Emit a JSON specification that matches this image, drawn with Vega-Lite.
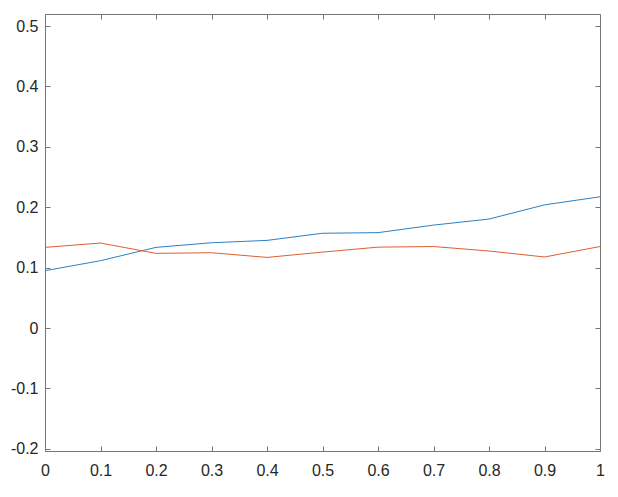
{
  "$schema": "https://vega.github.io/schema/vega-lite/v6.json",
  "autosize": {"type": "none"},
  "padding": {"left": 45, "top": 14, "right": 18, "bottom": 46},
  "width": 555,
  "height": 437,
  "background": "white",
  "config": {
    "view": {"stroke": null},
    "axis": {
      "grid": false,
      "domainColor": "#767676",
      "domainWidth": 1,
      "tickColor": "#767676",
      "tickWidth": 1,
      "tickSize": -5,
      "labelFont": "Liberation Sans",
      "labelFontSize": 16,
      "labelColor": "#262626",
      "title": null
    }
  },
  "data": {
    "values": [
      {"x": 0.0, "y": 0.095, "s": "A"},
      {"x": 0.1, "y": 0.1116, "s": "A"},
      {"x": 0.2, "y": 0.1336, "s": "A"},
      {"x": 0.3, "y": 0.1413, "s": "A"},
      {"x": 0.4, "y": 0.1452, "s": "A"},
      {"x": 0.5, "y": 0.157, "s": "A"},
      {"x": 0.6, "y": 0.158, "s": "A"},
      {"x": 0.7, "y": 0.1705, "s": "A"},
      {"x": 0.8, "y": 0.1805, "s": "A"},
      {"x": 0.9, "y": 0.204, "s": "A"},
      {"x": 1.0, "y": 0.2174, "s": "A"},
      {"x": 0.0, "y": 0.1336, "s": "B"},
      {"x": 0.1, "y": 0.1408, "s": "B"},
      {"x": 0.2, "y": 0.1237, "s": "B"},
      {"x": 0.3, "y": 0.1248, "s": "B"},
      {"x": 0.4, "y": 0.117, "s": "B"},
      {"x": 0.5, "y": 0.1258, "s": "B"},
      {"x": 0.6, "y": 0.134, "s": "B"},
      {"x": 0.7, "y": 0.135, "s": "B"},
      {"x": 0.8, "y": 0.1276, "s": "B"},
      {"x": 0.9, "y": 0.1177, "s": "B"},
      {"x": 1.0, "y": 0.135, "s": "B"}
    ]
  },
  "layer": [
    {
      "mark": {"type": "line", "strokeWidth": 1, "clip": true},
      "encoding": {
        "x": {
          "field": "x", "type": "quantitative",
          "scale": {"domain": [0, 1], "nice": false, "zero": false},
          "axis": {"orient": "bottom", "values": [0, 0.1, 0.2, 0.3, 0.4, 0.5, 0.6, 0.7, 0.8, 0.9, 1], "labelPadding": 16, "labelFlush": false, "labelOverlap": false, "labelExpr": "format(datum.value, '~g')"}
        },
        "y": {
          "field": "y", "type": "quantitative",
          "scale": {"domain": [-0.2035, 0.52], "nice": false, "zero": false},
          "axis": {"orient": "left", "values": [-0.2, -0.1, 0, 0.1, 0.2, 0.3, 0.4, 0.5], "labelPadding": 12, "labelExpr": "replace(format(datum.value, '~g'), '\u2212', '-')", "labelOverlap": false}
        },
        "color": {
          "field": "s", "type": "nominal",
          "scale": {"domain": ["A", "B"], "range": ["#2a80c8", "#de5e34"]},
          "legend": null
        }
      }
    },
    {
      "mark": {"type": "line", "strokeOpacity": 0},
      "encoding": {
        "x": {
          "field": "x", "type": "quantitative",
          "axis": {"orient": "top", "labels": false, "values": [0, 0.1, 0.2, 0.3, 0.4, 0.5, 0.6, 0.7, 0.8, 0.9, 1]}
        },
        "y": {
          "field": "y", "type": "quantitative",
          "axis": {"orient": "right", "labels": false, "values": [-0.2, -0.1, 0, 0.1, 0.2, 0.3, 0.4, 0.5]}
        },
        "detail": {"field": "s"}
      }
    }
  ],
  "resolve": {"axis": {"x": "independent", "y": "independent"}}
}
